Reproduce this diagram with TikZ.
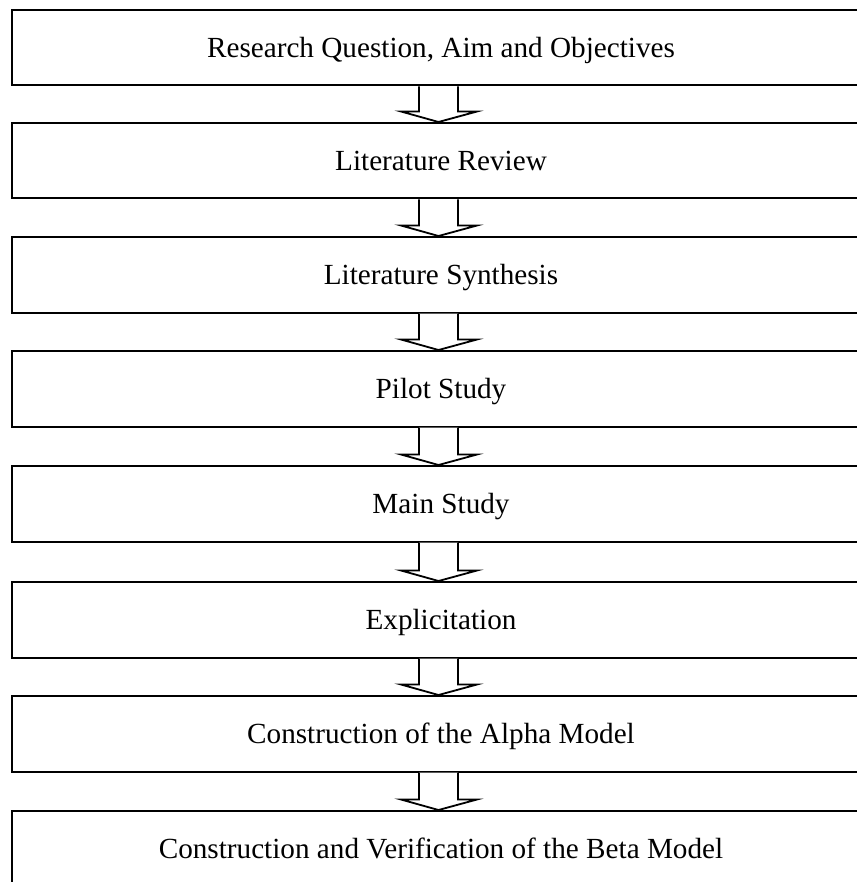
\documentclass[tikz,border=0pt]{standalone}
\usepackage{fontspec}
\setmainfont{Liberation Serif}
\usetikzlibrary{calc}

\tikzset{
  stagebox/.style={draw=black, line width=2pt, fill=white, rectangle,
    minimum width=858pt, minimum height=75.5pt, inner sep=0pt,
    text height=20pt, text depth=0pt,
    font=\fontsize{29.2}{35}\selectfont},
  flowarrow/.style={draw=black, line width=1.8pt, fill=white, line join=miter}
}

% hollow block arrow from the bottom of one stage to the top of the next
\newcommand\stagearrow[2]{%
  \draw[flowarrow] let \p1=(#1.south), \p2=(#2.north) in
    (\x1-22pt,\y1) -- (\x1-22pt,\y2+10.5pt) -- (\x1-40pt,\y2+10.5pt)
    -- (\x1-2.5pt,\y2) -- (\x1+36pt,\y2+10.5pt) -- (\x1+17pt,\y2+10.5pt)
    -- (\x1+17pt,\y1);}

\begin{document}
\begin{tikzpicture}[x=1pt, y=-1pt]
  \useasboundingbox (0,0) rectangle (856,882);

  \node[stagebox] (s1) at (441,47.75)  {Research Question, Aim and Objectives};
  \node[stagebox] (s2) at (441,160.75) {Literature Review};
  \node[stagebox] (s3) at (441,274.75) {Literature Synthesis};
  \node[stagebox] (s4) at (441,388.75) {Pilot Study};
  \node[stagebox] (s5) at (441,503.75) {Main Study};
  \node[stagebox] (s6) at (441,619.75) {Explicitation};
  \node[stagebox] (s7) at (441,733.75) {Construction of the Alpha Model};
  \node[stagebox] (s8) at (441,848.75) {Construction and Verification of the Beta Model};

  \stagearrow{s1}{s2}
  \stagearrow{s2}{s3}
  \stagearrow{s3}{s4}
  \stagearrow{s4}{s5}
  \stagearrow{s5}{s6}
  \stagearrow{s6}{s7}
  \stagearrow{s7}{s8}
\end{tikzpicture}
\end{document}
